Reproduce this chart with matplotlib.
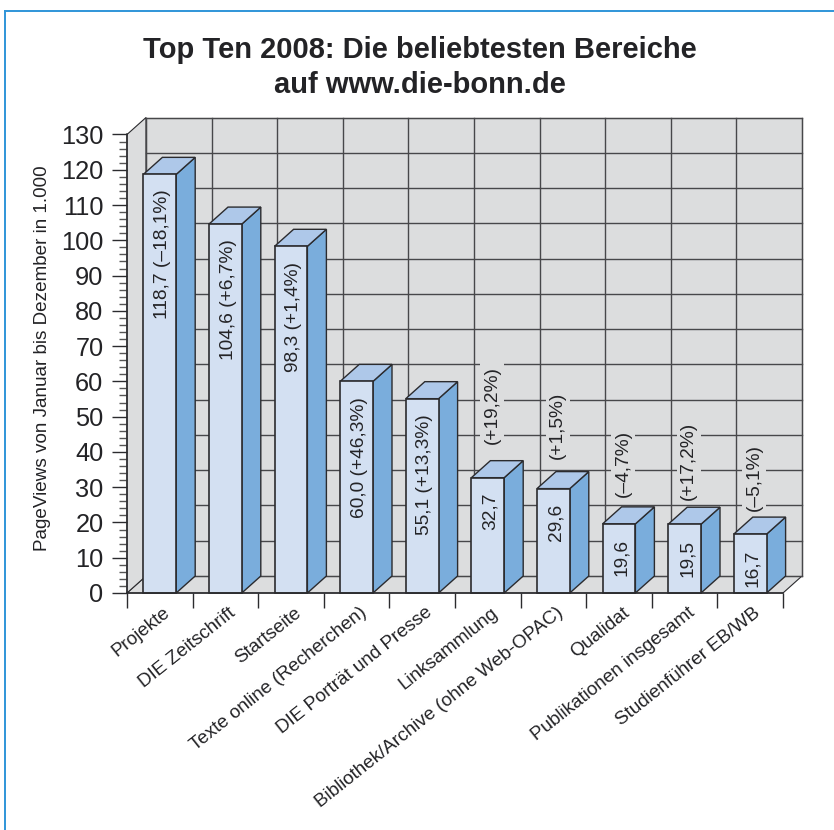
import matplotlib
matplotlib.use('Agg')
import matplotlib.pyplot as plt
from matplotlib.patches import Polygon
from matplotlib.ticker import MultipleLocator
from matplotlib.transforms import ScaledTranslation

plt.rcParams['font.family'] = ['Liberation Sans', 'DejaVu Sans']

categories = ['Projekte', 'DIE Zeitschrift', 'Startseite', 'Texte online (Recherchen)',
              'DIE Porträt und Presse', 'Linksammlung', 'Bibliothek/Archive (ohne Web-OPAC)',
              'Qualidat', 'Publikationen insgesamt', 'Studienführer EB/WB']
views = [118.7, 104.6, 98.3, 60.0, 55.1, 32.7, 29.6, 19.6, 19.5, 16.7]
view_labels = ['118,7', '104,6', '98,3', '60,0', '55,1', '32,7', '29,6', '19,6', '19,5', '16,7']
changes = ['(–18,1%)', '(+6,7%)', '(+1,4%)', '(+46,3%)', '(+13,3%)',
           '(+19,2%)', '(+1,5%)', '(–4,7%)', '(+17,2%)', '(–5,1%)']
y_max = 130

W, H = 834, 830
LINE = '#2b2b2e'
GRID = '#47474a'
TEXT = '#232326'
WALL = '#dcddde'

fig = plt.figure(figsize=(W / 100, H / 100), dpi=100)
# plot box in pixels: front corner at 127/593, top of the axis at 134.5
ax = fig.add_axes([127 / W, 1 - 593 / H, 656 / W, 458.5 / H])
ax.set_xlim(0, len(categories))
ax.set_ylim(0, y_max)
ax.patch.set_visible(False)

# depth of the fake 3D box in data units
dx = 19 / 65.6
dy = 17 / 3.527


def poly(pts, fc, ec=LINE, lw=1.0, z=1):
    ax.add_patch(Polygon(pts, closed=True, facecolor=fc, edgecolor=ec, linewidth=lw,
                         zorder=z, clip_on=False, joinstyle='miter'))


n = len(categories)
# walls and floor
poly([(0, 0), (dx, dy), (n + dx, dy), (n, 0)], WALL, lw=0.8, z=1)
poly([(0, 0), (0, y_max), (dx, y_max + dy), (dx, dy)], WALL, lw=0.8, z=1)
poly([(dx, dy), (dx, y_max + dy), (n + dx, y_max + dy), (n + dx, dy)], WALL, lw=0.8, z=1)

# grid on the back wall
for v in range(0, y_max + 1, 10):
    ax.plot([dx, n + dx], [v + dy, v + dy], color=GRID, lw=1.0, zorder=2, clip_on=False)
for i in range(0, n + 1):
    ax.plot([i + dx, i + dx], [dy, y_max + dy], color=GRID, lw=1.0, zorder=2, clip_on=False)

# how far the separate percentage sits above the short bars, in points
change_lift = [0, 0, 0, 0, 0, 24, 21, 19, 17.5, 16.5]

# bars, drawn left to right so each one sits on top of its neighbour
for i, v in enumerate(views):
    x0, x1 = i + 0.25, i + 0.75
    z = 3 + i * 0.01
    poly([(x1, 0), (x1 + dx, dy), (x1 + dx, v + dy), (x1, v)], '#7aaddc', lw=1.0, z=z)
    poly([(x0, v), (x0 + dx, v + dy), (x1 + dx, v + dy), (x1, v)], '#aec8e9', lw=1.0, z=z)
    poly([(x0, 0), (x0, v), (x1, v), (x1, 0)], '#d3e0f2', lw=1.2, z=z)

    xc = i + 0.5
    if v > 50:
        ax.annotate(f'{view_labels[i]} {changes[i]}', (xc, v), xytext=(2, -11),
                    textcoords='offset points', rotation=90, ha='center', va='top',
                    fontsize=13.8, color=TEXT, zorder=5)
    else:
        ax.annotate(view_labels[i], (xc, v), xytext=(2, -11), textcoords='offset points',
                    rotation=90, ha='center', va='top', fontsize=13.8, color=TEXT, zorder=5)
        ax.annotate(changes[i], (xc, v), xytext=(3, change_lift[i]), textcoords='offset points',
                    rotation=90, ha='center', va='bottom', fontsize=13.8, color=TEXT, zorder=5,
                    bbox=dict(facecolor=WALL, edgecolor='none', pad=2.5))

# axes
for side in ('top', 'right'):
    ax.spines[side].set_visible(False)
for side in ('left', 'bottom'):
    ax.spines[side].set_color(LINE)
    ax.spines[side].set_linewidth(1.1)
    ax.spines[side].set_zorder(6)

ax.yaxis.set_major_locator(MultipleLocator(10))
ax.yaxis.set_minor_locator(MultipleLocator(2))
ax.tick_params(axis='y', which='major', length=11, width=1.0, color=LINE,
               labelsize=18.3, labelcolor=TEXT, pad=6)
ax.tick_params(axis='y', which='minor', length=6, width=1.0, color='#555555')

ax.set_xticks(range(n + 1))
ax.set_xticklabels([])
ax.set_xticks([i + 0.5 for i in range(n)], labels=categories, minor=True)
ax.tick_params(axis='x', which='major', length=10.5, width=1.0, color=LINE)
ax.tick_params(axis='x', which='minor', length=0, pad=8, labelsize=13.6, labelcolor=TEXT)
# nudge the slanted names a little to the right of the bar centre
shift = ScaledTranslation(3 / 100, 0, fig.dpi_scale_trans)
for lab in ax.get_xticklabels(minor=True):
    lab.set_rotation(38.5)
    lab.set_ha('right')
    lab.set_va('top')
    lab.set_rotation_mode('anchor')
    lab.set_transform(lab.get_transform() + shift)

ax.set_ylabel('PageViews von Januar bis Dezember in 1.000', fontsize=13.6, color=TEXT)
ax.yaxis.set_label_coords(-76 / 656, 0.5125)

fig.text(420 / W, 1 - 67.5 / H, 'Top Ten 2008: Die beliebtesten Bereiche\nauf www.die-bonn.de',
         ha='center', va='center', fontsize=21, fontweight='bold', color=TEXT,
         linespacing=1.35)

# blue frame, open on the right
frame = '#2f95d8'
fig.add_artist(plt.Line2D([5 / W, 5 / W], [0, 1 - 11 / H], color=frame, lw=1.4))
fig.add_artist(plt.Line2D([5 / W, 1], [1 - 11 / H, 1 - 11 / H], color=frame, lw=1.4))

fig.savefig('out.png', dpi=100)
